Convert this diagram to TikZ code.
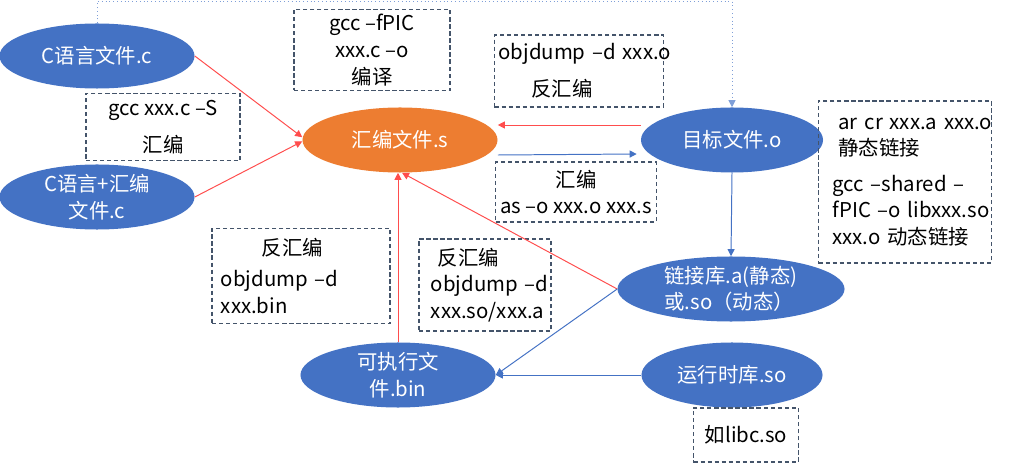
\documentclass[tikz,border=0pt]{standalone}
\usepackage{fontspec}
\setmainfont{Noto Sans CJK SC}
\usetikzlibrary{arrows.meta,shapes.geometric}
\definecolor{FileBlue}{HTML}{4472C4}
\definecolor{AsmOrange}{HTML}{ED7D31}
\definecolor{BoxGray}{HTML}{44546A}
\definecolor{ArrRed}{HTML}{FF4D4D}
\definecolor{DotBlue}{HTML}{7F9FD8}

\tikzset{
  every node/.style={font=\fontsize{14.5pt}{19pt}\selectfont},
  fileell/.style={ellipse,fill=FileBlue,text=white,inner sep=0pt,align=center,
    minimum height=1.625cm},
  cmdbox/.style={draw=BoxGray,line width=0.8pt,dash pattern=on 3pt off 2pt},
  redarr/.style={draw=ArrRed,line width=0.7pt,-{Triangle[length=5pt,width=5pt]}},
  bluearr/.style={draw=FileBlue,line width=0.7pt,-{Triangle[length=5pt,width=5pt]}},
  dotarr/.style={draw=DotBlue,line width=0.7pt,dotted,-{Triangle[length=5pt,width=5pt]}}
}

\begin{document}
\begin{tikzpicture}[x=0.025cm,y=-0.025cm]
  \useasboundingbox (0,0) rectangle (1036,464);

  % files
  \node[fileell,minimum width=4.875cm] (csrc) at (97,56) {C语言文件.c};
  \node[fileell,minimum width=4.875cm] (cmix) at (97,197) {C语言+汇编\\文件.c};
  \node[fileell,fill=AsmOrange,minimum width=4.875cm] (asm) at (400,140) {汇编文件.s};
  \node[fileell,minimum width=4.55cm] (obj) at (732,140) {目标文件.o};
  \node[fileell,minimum width=5.675cm,align=left] (lib) at (731,289)
    {链接库.a(静态)\\或.so（动态）};
  \node[fileell,minimum width=4.525cm] (rt) at (732,375) {运行时库.so};
  \node[fileell,minimum width=4.875cm] (bin) at (398,375) {可执行文\\件.bin};

  % commands
  \node[cmdbox,align=center,minimum width=3.9cm,minimum height=1.975cm] (picbox)
    at (372,50) {\mbox{gcc –fPIC}\\\mbox{xxx.c –o}\\编译};
  \node[cmdbox,align=center,minimum width=3.85cm,minimum height=1.675cm] (gccsbox)
    at (163,127) {\mbox{gcc xxx.c –S}\\[7pt]汇编};
  \node[cmdbox,align=left,inner xsep=0.1cm,text width=4.025cm,minimum height=1.8cm]
    (objdbox) at (579,71) {\mbox{objdump –d xxx.o}\\[7pt]\hspace*{0.825cm}反汇编};
  \node[cmdbox,align=center,minimum width=3.775cm,minimum height=1.5cm] (asbox)
    at (576,192) {汇编\\\mbox{as –o xxx.o xxx.s}};
  \node[cmdbox,align=left,inner xsep=0.35cm,text width=3.625cm,minimum height=4.05cm]
    (linkbox) at (905,182)
    {\hspace*{0.15cm}\mbox{ar cr xxx.a xxx.o}\\\hspace*{0.15cm}静态链接\\[6pt]
     \mbox{gcc –shared –}\\\mbox{fPIC –o libxxx.so}\\\mbox{xxx.o 动态链接}};
  \node[cmdbox,align=left,inner xsep=0.225cm,text width=4cm,minimum height=2.375cm]
    (binbox) at (301,276) {\hspace*{1.025cm}反汇编\\[3pt]\mbox{objdump –d}\\xxx.bin};
  \node[cmdbox,align=left,inner xsep=0.3cm,text width=2.7cm,minimum height=2.3cm]
    (libdbox) at (485,285) {\hspace*{0.175cm}反汇编\\\mbox{objdump –d}\\xxx.so/xxx.a};
  \node[cmdbox,minimum width=2.625cm,minimum height=1.35cm] (libcbox) at (746,435)
    {如libc.so};

  % arrows
  \draw[redarr] (csrc.east) -- ([yshift=2pt]asm.west);
  \draw[redarr] (cmix.east) -- ([yshift=-1pt]asm.west);
  \draw[redarr] ([yshift=0.375cm]obj.west) -- ([yshift=0.375cm]asm.east);
  \draw[bluearr] ([yshift=-0.375cm]asm.east) -- ([yshift=-0.35cm,xshift=-0.1cm]obj.west);
  \draw[bluearr] (obj.south) -- (lib.north);
  \draw[redarr] (lib.west) -- ([xshift=0.05cm]asm.south);
  \draw[redarr] (bin.north) -- (bin.north |- asm.south);
  \draw[bluearr] (lib.west) -- (bin.east);
  \draw[bluearr] (rt.west) -- (bin.east);
  \coordinate (topline) at (0,1.5);
  \draw[dotarr] (csrc.north) |- (topline -| obj.north) -- (obj.north);
\end{tikzpicture}
\end{document}
